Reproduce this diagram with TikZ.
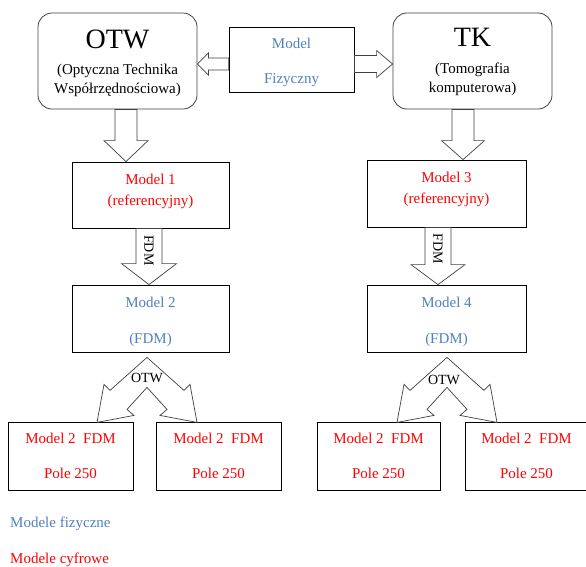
\documentclass[tikz,border=0pt]{standalone}
\usepackage{fontspec}
\setmainfont{Liberation Serif}
\usetikzlibrary{calc}

\definecolor{fizblue}{RGB}{79,129,189}
\definecolor{cyfred}{RGB}{255,0,0}
\definecolor{linegray}{RGB}{64,64,64}

% block arrow: tail, tip, shaft half width, head half width, head length
\newcommand{\fatarrow}[5]{%
  \coordinate (fa-base) at ($(#2)!#5pt!(#1)$);
  \draw[blockarrow] ($(#1)!#3pt!90:(#2)$) -- ($(fa-base)!#3pt!-90:(#1)$)
    -- ($(fa-base)!#4pt!-90:(#1)$) -- (#2) -- ($(fa-base)!#4pt!90:(#1)$)
    -- ($(fa-base)!#3pt!90:(#1)$) -- ($(#1)!#3pt!-90:(#2)$) -- cycle;}
% invisible struts to move the text block up or down in its box
\newcommand{\lift}[1]{\rule[-#1]{0pt}{0pt}}
\newcommand{\sink}[1]{\rule{0pt}{#1}}

\tikzset{
  splitarrow/.pic={
    \draw[blockarrow] (0,0) -- (-37,33) -- (-43,27) -- (-50,65) -- (-13,58)
      -- (-20,52) -- (0,30) -- (20,52) -- (13,58) -- (50,65) -- (43,27)
      -- (37,33) -- cycle;}
}

\begin{document}
\begin{tikzpicture}[x=1pt, y=-1pt, font=\fontsize{15}{18}\selectfont,
  box/.style={draw=black, line width=0.8pt, inner sep=0pt, align=center},
  roundbox/.style={box, draw=linegray, rounded corners=14pt, minimum width=159pt,
    minimum height=96pt, font=\fontsize{15}{19.5}\selectfont},
  blockarrow/.style={draw=linegray, line width=0.7pt, fill=white},
  fiz/.style={text=fizblue}, cyf/.style={text=cyfred},
  small/.style={inner sep=0pt, font=\fontsize{14}{16}\selectfont}]

\useasboundingbox (0,0) rectangle (586,566);

% top row
\node[roundbox] (otw) at (117.5,61) {{\fontsize{28}{28}\selectfont\sink{24pt}OTW}\\[6pt](Optyczna Technika\\Współrzędnościowa)};
\node[box, fiz, minimum width=125pt, minimum height=65pt] (mf) at (291.5,59.5) {\sink{16pt}Model\\[17pt]Fizyczny};
\node[roundbox] (tk) at (472.5,61) {{\fontsize{28}{28}\selectfont\sink{21pt}TK}\\[7pt](Tomografia\\komputerowa)};

% models
\node[box, cyf, minimum width=157pt, minimum height=66pt] (m1) at (150.5,195) {Model 1\\[3pt](referencyjny)\lift{11.3pt}};
\node[box, cyf, minimum width=159pt, minimum height=67pt] (m3) at (446.5,193.5) {Model 3\\[3pt](referencyjny)\lift{12.3pt}};
\node[box, fiz, minimum width=157pt, minimum height=67pt] (m2) at (150.5,318.5) {\sink{17pt}Model 2\\[18pt](FDM)};
\node[box, fiz, minimum width=159pt, minimum height=67pt] (m4) at (446.5,318.5) {\sink{17pt}Model 4\\[18pt](FDM)};

% pole 250
\node[box, cyf, minimum width=125pt, minimum height=68pt] (b1) at (70.5,456) {Model 2~~FDM\\[17pt]Pole 250};
\node[box, cyf, minimum width=125pt, minimum height=68pt] (b2) at (218.5,456) {Model 2~~FDM\\[17pt]Pole 250};
\node[box, cyf, minimum width=123pt, minimum height=68pt] (b3) at (378.5,456) {Model 2~~FDM\\[17pt]Pole 250};
\node[box, cyf, minimum width=123pt, minimum height=68pt] (b4) at (526.5,456) {Model 2~~FDM\\[17pt]Pole 250};

% arrows from the physical model
\coordinate (t5) at ([yshift=-4.5pt]mf.west);
\coordinate (h5) at (t5 -| otw.east);
\fatarrow{t5}{h5}{6}{11}{11}
\coordinate (t6) at ([yshift=-4.5pt]mf.east);
\coordinate (h6) at (t6 -| tk.west);
\fatarrow{t6}{h6}{8.5}{13.5}{16}

% down arrows
\coordinate (t1) at ([xshift=8.5pt]otw.south);
\coordinate (h1) at (t1 |- m1.north);
\fatarrow{t1}{h1}{11}{22}{21}
\coordinate (t3) at ([xshift=-9.5pt]tk.south);
\coordinate (h3) at (t3 |- m3.north);
\fatarrow{t3}{h3}{11}{21.5}{19}

\coordinate (t2) at ([xshift=-1.5pt]m1.south);
\coordinate (h2) at (t2 |- m2.north);
\fatarrow{t2}{h2}{13}{27.5}{21}
\node[small, rotate=-90] (fdm1) at ($(t2)!0.39!(h2)$) {FDM};
\coordinate (t4) at ([xshift=-8.5pt]m3.south);
\coordinate (h4) at (t4 |- m4.north);
\fatarrow{t4}{h4}{13}{27}{20}
\node[small, rotate=-90] (fdm2) at ($(t4)!0.38!(h4)$) {FDM};

% split arrows
\coordinate (s1) at ($(m2.south)+(-3.5,5)$);
\pic at (s1) {splitarrow};
\node[small] (otw1) at ($(s1)+(0,21)$) {OTW};
\coordinate (s2) at ($(m4.south)+(0.5,5)$);
\pic at (s2) {splitarrow};
\node[small] (otw2) at ($(s2)+(-3,23)$) {OTW};

% legend
\node[fiz, anchor=west, inner sep=0pt] (leg1) at (10,524) {Modele fizyczne};
\node[cyf, anchor=west, inner sep=0pt] (leg2) at (10,560) {Modele cyfrowe};
\end{tikzpicture}
\end{document}
